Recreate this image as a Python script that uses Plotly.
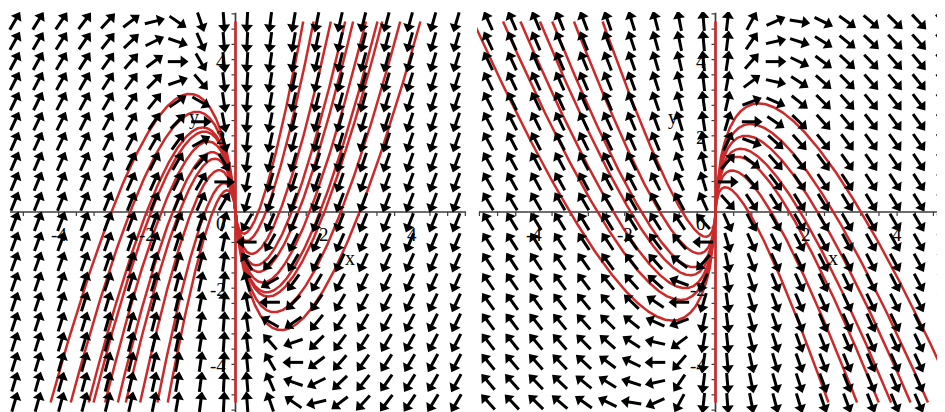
import numpy as np
import plotly.graph_objects as go

# ---------------- data ----------------
# direction-field grid (Maple default 20 x 20 over [-5,5] x [-5,5])
field_x = np.linspace(-5, 5, 20)
field_y = np.linspace(-5, 5, 20)

major_ticks = [-4, -2, 2, 4]
major_labels = ["-4", "-2", "2", "4"]
minor_step = 0.4

# left panel:  x y' = y + 3x   ->  y = 3x ln|x| + C x
# |y| of the extremum of each red solution curve (extrema lie on y = -3x)
left_extrema = [3.10, 2.63, 2.22, 2.11, 1.85, 1.57, 1.40, 1.10, 0.76, 0.57]
# right panel: 3x y' = 2y - 6x  -> y = A|x|^(2/3) sgn(x) - 6x   (extrema on y = 3x)
right_extrema = [2.85, 2.31, 2.00, 1.66, 1.45, 1.09, 0.65]
right_power = 2.0 / 3.0
y_limit = 5.0           # solutions stop at |y| = 5

# ---------------- layout geometry (page has an 8px body margin) ----------------
OFF = 8
W, H = 945 - OFF, 412 - OFF
MT = 12 - OFF
Y_RANGE = [-5.25, 5.25]
SY = (H - MT) / (Y_RANGE[1] - Y_RANGE[0])

SX_L = 44.2
L_PX = [0, 467 - OFF]
LX_RANGE = [-(235.5 - OFF) / SX_L, (L_PX[1] + OFF - 235.5) / SX_L]

SX_R = 45.4
R_PX = [477 - OFF, W]
RX_RANGE = [-(715.5 - 477) / SX_R, (945 - 715.5) / SX_R]

RED = "rgb(204,42,42)"
AXIS = "#3c3c3c"
FONT = "Liberation Serif"

fig = go.Figure()


def left_field(x, y):
    return -x, -(y + 3 * x)


def right_field(x, y):
    a = right_power
    return x, a * (y - 3 * x)


def left_curve(x0):
    C = -3 * (1 + np.log(x0))
    return lambda x: 3 * x * np.log(x) + C * x


def right_curve(x0):
    a = right_power
    k = 3 * a / (1 - a)
    A = (k / a) * x0 ** (1 - a)
    return lambda x: A * x ** a - k * x


def clip_branch(xs, ys):
    out = np.where(np.abs(ys) > y_limit)[0]
    if len(out) == 0:
        return xs, ys
    i = out[0]
    yl = np.sign(ys[i]) * y_limit
    t = (yl - ys[i - 1]) / (ys[i] - ys[i - 1])
    xe = xs[i - 1] + t * (xs[i] - xs[i - 1])
    return np.append(xs[:i], xe), np.append(ys[:i], yl)


def add_axes(xr, xa, ya, sx):
    fig.add_trace(go.Scatter(x=[xr[0] + 2 / sx, xr[1] - 1 / sx], y=[0, 0], mode="lines",
                             line=dict(color=AXIS, width=1.7), xaxis=xa, yaxis=ya,
                             hoverinfo="skip", showlegend=False))
    fig.add_trace(go.Scatter(x=[0, 0], y=[Y_RANGE[0], Y_RANGE[1] - 0.02], mode="lines",
                             line=dict(color=AXIS, width=1.7), xaxis=xa, yaxis=ya,
                             hoverinfo="skip", showlegend=False))
    tx, ty = [], []
    tl = 4.0
    for v in np.arange(-5.2, 5.21, minor_step):
        if abs(v) < 1e-6:
            continue
        if xr[0] < v < xr[1]:
            tx += [v, v, None]
            ty += [0, -tl / SY, None]
        tx += [0, -tl / sx, None]
        ty += [v, v, None]
    fig.add_trace(go.Scatter(x=tx, y=ty, mode="lines", line=dict(color=AXIS, width=1.2),
                             xaxis=xa, yaxis=ya, hoverinfo="skip", showlegend=False))


def add_curves(extrema, maker, xa, ya):
    xs = np.geomspace(1e-5, 5.4, 900)
    for e in extrema:
        f = maker(e / 3.0)
        ys = f(xs)
        bx, by = clip_branch(xs, ys)
        for sgn in (1, -1):
            fig.add_trace(go.Scatter(x=sgn * bx, y=sgn * by, mode="lines",
                                     line=dict(color=RED, width=2.5), xaxis=xa, yaxis=ya,
                                     hoverinfo="skip", showlegend=False))
    fig.add_trace(go.Scatter(x=[0, 0], y=[-y_limit, y_limit], mode="lines",
                             line=dict(color=RED, width=2.6), xaxis=xa, yaxis=ya,
                             hoverinfo="skip", showlegend=False))


def add_arrows(field, sx, xa, ya):
    L = 19.0
    HL = 8.0
    sx_l, sy_l, hx, hy, ang = [], [], [], [], []
    for gx in field_x:
        for gy in field_y:
            u, v = field(gx, gy)
            px, py = u * sx, v * SY
            n = np.hypot(px, py)
            if n == 0:
                continue
            px, py = px / n, py / n
            tail = (gx - 0.5 * L * px / sx, gy - 0.5 * L * py / SY)
            tip = (gx + 0.5 * L * px / sx, gy + 0.5 * L * py / SY)
            send = (tip[0] - HL * 0.6 * px / sx, tip[1] - HL * 0.6 * py / SY)
            sx_l += [tail[0], send[0], None]
            sy_l += [tail[1], send[1], None]
            hx.append(tip[0] - HL * 0.45 * px / sx)
            hy.append(tip[1] - HL * 0.45 * py / SY)
            ang.append(np.degrees(np.arctan2(px, py)))
    fig.add_trace(go.Scatter(x=sx_l, y=sy_l, mode="lines", line=dict(color="black", width=3.0),
                             xaxis=xa, yaxis=ya, hoverinfo="skip", showlegend=False))
    fig.add_trace(go.Scatter(x=hx, y=hy, mode="markers",
                             marker=dict(symbol="triangle-up", size=10.5, angle=ang, color="black",
                                         line=dict(width=0)),
                             xaxis=xa, yaxis=ya, hoverinfo="skip", showlegend=False))


def add_labels(xref, yref, sx):
    ann = []
    f = dict(family=FONT, size=19, color="black")
    for v, t in zip(major_ticks, major_labels):
        ann.append(dict(x=v, y=-22 / SY, xref=xref, yref=yref, text=t, showarrow=False,
                        xanchor="center", yanchor="middle", font=f))
        ann.append(dict(x=-8 / sx, y=v - 1.5 / SY, xref=xref, yref=yref, text=t, showarrow=False,
                        xanchor="right", yanchor="middle", font=f))
    ann.append(dict(x=-8 / sx, y=-11 / SY, xref=xref, yref=yref, text="0", showarrow=False,
                    xanchor="right", yanchor="middle", font=f))
    fl = dict(family=FONT, size=20, color="black")
    ann.append(dict(x=2.59, y=-1.2, xref=xref, yref=yref, text="x", showarrow=False,
                    xanchor="center", yanchor="middle", font=fl))
    ann.append(dict(x=-0.93, y=2.48, xref=xref, yref=yref, text="y", showarrow=False,
                    xanchor="center", yanchor="middle", font=fl))
    return ann


add_axes(LX_RANGE, "x", "y", SX_L)
add_axes(RX_RANGE, "x2", "y2", SX_R)
add_curves(left_extrema, left_curve, "x", "y")
add_curves(right_extrema, right_curve, "x2", "y2")
add_arrows(left_field, SX_L, "x", "y")
add_arrows(right_field, SX_R, "x2", "y2")

annotations = add_labels("x", "y", SX_L) + add_labels("x2", "y2", SX_R)

ax_common = dict(visible=False, showgrid=False, zeroline=False, fixedrange=True)
fig.update_layout(
    width=W, height=H,
    margin=dict(l=0, r=0, t=MT, b=0),
    paper_bgcolor="white", plot_bgcolor="white",
    showlegend=False,
    xaxis=dict(domain=[L_PX[0] / W, L_PX[1] / W], range=LX_RANGE, **ax_common),
    yaxis=dict(domain=[0, 1], range=Y_RANGE, **ax_common),
    xaxis2=dict(domain=[R_PX[0] / W, R_PX[1] / W], range=RX_RANGE, anchor="y2", **ax_common),
    yaxis2=dict(domain=[0, 1], range=Y_RANGE, anchor="x2", **ax_common),
    annotations=annotations,
)

fig.write_html("out.html")
